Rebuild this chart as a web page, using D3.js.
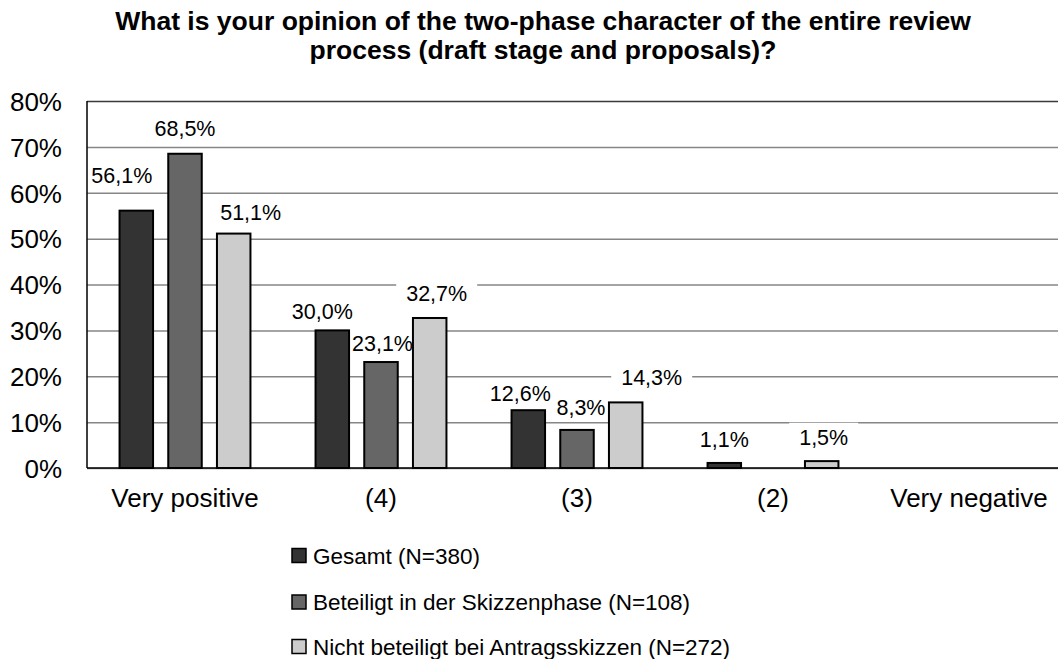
<!DOCTYPE html>
<html>
<head>
<meta charset="utf-8">
<script src="https://cdn.jsdelivr.net/npm/d3@7"></script>
<style>
  html, body { margin: 0; padding: 0; background: #fff; }
  svg { display: block; font-family: "Liberation Sans", Arial, sans-serif; }
</style>
</head>
<body>
<svg id="chart" width="1058" height="659"></svg>
<script>
// Survey answers, share of respondents in percent
const categories = ["Very positive", "(4)", "(3)", "(2)", "Very negative"];
const seriesNames = [
  "Gesamt (N=380)",
  "Beteiligt in der Skizzenphase (N=108)",
  "Nicht beteiligt bei Antragsskizzen (N=272)"
];
const gesamt = [56.1, 30.0, 12.6, 1.1, 0.0];
const beteiligt = [68.5, 23.1, 8.3, null, null];
const nichtBeteiligt = [51.1, 32.7, 14.3, 1.5, 0.0];
const yTicks = [0, 10, 20, 30, 40, 50, 60, 70, 80];

// Hand-placed data label nudges [dx, dy] relative to bar centre / bar top
const labelNudge = [
  [[-14.5, -28], [-10, -11], [-8, -9], [0, -16], [0, 0]],
  [[0, -18], [1.5, -10.6], [4, -15], [0, 0], [0, 0]],
  [[17, -13.3], [7, -16.7], [26, -17.6], [2, -16], [0, 0]]
];

const seriesValues = [gesamt, beteiligt, nichtBeteiligt];
const fills = ["#333333", "#666666", "#cccccc"];

const svg = d3.select("#chart");
const plot = { left: 87, right: 1067, top: 101, bottom: 468 };

const x = d3.scaleBand().domain(categories).range([plot.left, plot.right]).padding(0);
const y = d3.scaleLinear().domain([0, 80]).range([plot.bottom, plot.top]);
const barStep = 48.7, barWidth = 33.5;

const de = d3.formatLocale({ decimal: ",", thousands: ".", grouping: [3], currency: ["", " €"] });
const fmt = de.format(".1%");

// Title
const title = svg.append("text")
  .attr("x", 543).attr("text-anchor", "middle")
  .style("font-weight", "bold").style("font-size", "26.5px").attr("fill", "#000");
title.append("tspan").attr("x", 543).attr("y", 29.5)
  .text("What is your opinion of the two-phase character of the entire review");
title.append("tspan").attr("x", 543).attr("y", 59)
  .text("process (draft stage and proposals)?");

const gGrid = svg.append("g");
const gLabelBg = svg.append("g");
const gBars = svg.append("g");
const gAxis = svg.append("g");
const gLabels = svg.append("g");

// Horizontal gridlines
gGrid.append("g")
  .attr("transform", `translate(${plot.left},0)`)
  .call(d3.axisLeft(y).tickValues(yTicks).tickSize(-(plot.right - plot.left)).tickFormat(""))
  .call(g => g.select(".domain").remove())
  .call(g => g.selectAll(".tick line")
    .attr("stroke", d => d === 80 ? "#3a3a3a" : "#868686")
    .attr("stroke-width", 1.5));

// Y tick labels
gAxis.append("g")
  .attr("transform", `translate(${plot.left - 25},0)`)
  .call(d3.axisLeft(y).tickValues(yTicks).tickSize(0).tickPadding(0).tickFormat(d => d + "%"))
  .call(g => g.select(".domain").remove())
  .call(g => g.selectAll("text")
    .attr("dy", null).attr("y", 9.3)
    .style("font-size", "26px").style("font-family", "'Liberation Sans', Arial, sans-serif")
    .attr("fill", "#000"));

// Bars
seriesValues.forEach((vals, si) => {
  gBars.selectAll(null)
    .data(categories.map((c, i) => ({ c, i, v: vals[i] })).filter(d => d.v !== null))
    .enter().append("rect")
    .attr("x", d => x(d.c) + x.bandwidth() / 2 + (si - 1) * barStep - barWidth / 2)
    .attr("y", d => y(d.v))
    .attr("width", barWidth)
    .attr("height", d => y(0) - y(d.v))
    .attr("fill", fills[si])
    .attr("stroke", "#000")
    .attr("stroke-width", 2);
});

// Axis lines
gAxis.append("line")
  .attr("x1", plot.left).attr("x2", plot.left)
  .attr("y1", plot.top).attr("y2", plot.bottom)
  .attr("stroke", "#000").attr("stroke-width", 1.5);
gAxis.append("line")
  .attr("x1", plot.left).attr("x2", plot.right)
  .attr("y1", plot.bottom).attr("y2", plot.bottom)
  .attr("stroke", "#000").attr("stroke-width", 1.5);

// Category labels
gAxis.append("g")
  .attr("transform", `translate(0,${plot.bottom})`)
  .call(d3.axisBottom(x).tickSize(0).tickPadding(0))
  .call(g => g.select(".domain").remove())
  .call(g => g.selectAll("text")
    .attr("dy", null).attr("y", 39)
    .style("font-size", "26px").style("font-family", "'Liberation Sans', Arial, sans-serif")
    .attr("fill", "#000"));

// Data labels with white backing that interrupts the gridlines
const labelSize = 21.5;
const capH = 0.716 * labelSize;
seriesValues.forEach((vals, si) => {
  vals.forEach((v, i) => {
    if (v === null || v === 0) return;
    const cx = x(categories[i]) + x.bandwidth() / 2 + (si - 1) * barStep + labelNudge[si][i][0];
    const base = y(v) + labelNudge[si][i][1];
    const t = gLabels.append("text")
      .attr("x", cx).attr("y", base)
      .attr("text-anchor", "middle")
      .style("font-size", labelSize + "px")
      .attr("fill", "#000")
      .text(fmt(v / 100));
    const w = t.node().getComputedTextLength();
    gLabelBg.append("rect")
      .attr("x", cx - w / 2 - 10).attr("width", w + 20)
      .attr("y", base - capH - 7).attr("height", capH + 11)
      .attr("fill", "#fff");
  });
});

// Legend
const legendRows = [555.5, 602, 646.5];
seriesNames.forEach((name, si) => {
  const g = svg.append("g").attr("transform", `translate(292,${legendRows[si]})`);
  g.append("rect")
    .attr("x", 0).attr("y", -7).attr("width", 14).attr("height", 14)
    .attr("fill", fills[si]).attr("stroke", "#000").attr("stroke-width", 1.5);
  g.append("text")
    .attr("x", 21).attr("y", 8)
    .style("font-size", "22.5px").attr("fill", "#000")
    .text(name);
});
</script>
</body>
</html>
